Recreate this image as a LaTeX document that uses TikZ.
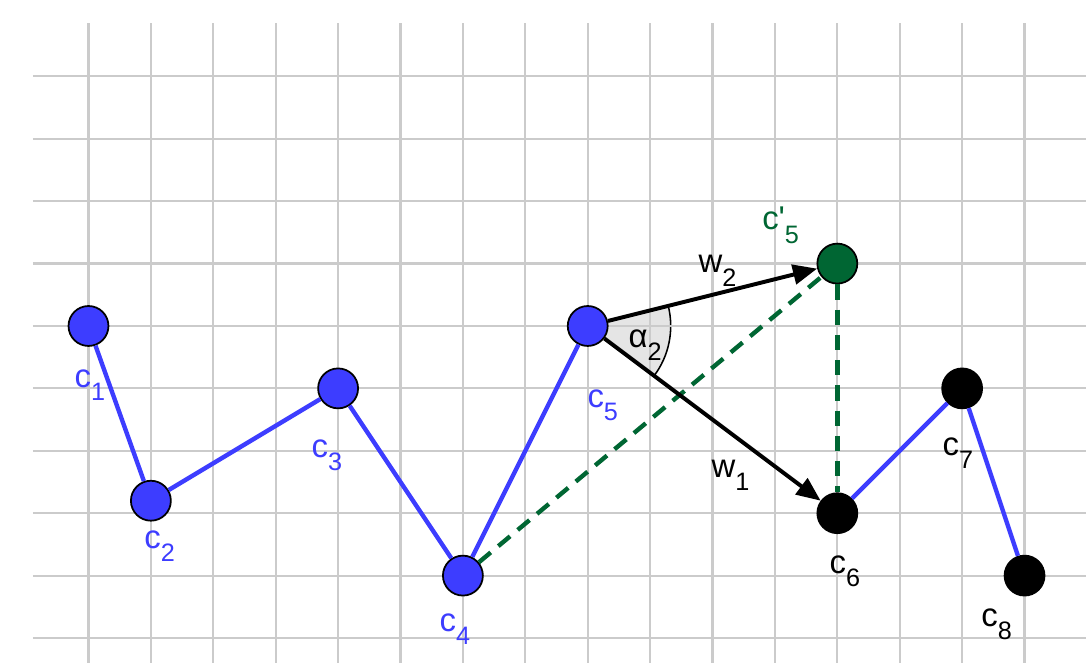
\documentclass[tikz,border=0pt]{standalone}
\usepackage{fontspec}
\setmainfont{Liberation Sans}
\usetikzlibrary{arrows.meta,positioning,angles,backgrounds}
\definecolor{ggBlue}{HTML}{3D3DFF}
\definecolor{ggGreen}{HTML}{006633}
\definecolor{ggGrid}{HTML}{CBCBCB}
\newcommand{\ggsub}[1]{\raisebox{-6pt}{\fontsize{11.5}{12}\selectfont #1}}
\tikzset{
  ggcuadro/.style={draw=ggGrid, line width=1pt},
  ggpunto/.style={
    circle, draw=black, line width=0.8pt,
    minimum size=0.64cm, inner sep=0pt
  },
  gglinea/.style={draw=ggBlue, line width=2pt},
  ggtraza/.style={draw=ggGreen, line width=2pt, dash pattern=on 7pt off 4.5pt},
  ggvector/.style={-{Triangle[length=11pt,width=9pt]}, draw=black, line width=1.8pt},
  ggetiq/.style={font=\fontsize{15}{17}\selectfont, anchor=base west, inner sep=0pt}
}

\begin{document}
\begin{tikzpicture}

% Marco y fondo
\begin{scope}[on background layer]
\fill[white] (-1.418,-0.4) rectangle (15.985,10.224);
\end{scope}
\useasboundingbox (-1.418,-0.4) rectangle (15.985,10.224);

% Cuadricula
\foreach \i in {0,...,15} \draw[ggcuadro] (\i,-0.4) -- (\i,9.86);
\foreach \j in {0,...,9} \draw[ggcuadro] (-0.89,\j) -- (15.985,\j);

% Puntos
\node[ggpunto, fill=ggBlue] (c1) at (0,5) {};
\node[ggpunto, fill=ggBlue] (c2) at (1,2.2) {};
\node[ggpunto, fill=ggBlue] (c3) at (4,4) {};
\node[ggpunto, fill=ggBlue] (c4) at (6,1) {};
\node[ggpunto, fill=ggBlue] (c5) at (8,5) {};
\node[ggpunto, fill=ggGreen] (c5p) at (12,6) {};
\node[ggpunto, fill=black] (c6) at (12,2) {};
\node[ggpunto, fill=black] (c7) at (14,4) {};
\node[ggpunto, fill=black] (c8) at (15,1) {};

% Angulo entre vectores
\begin{scope}[on background layer]
\pic[draw=black, line width=0.7pt, fill=black, fill opacity=0.1, angle radius=1.33cm] {angle = c6--c5--c5p};
\end{scope}

% Poligonal
\draw[gglinea] (c1) -- (c2) -- (c3) -- (c4) -- (c5);
\draw[gglinea] (c6) -- (c7) -- (c8);

% Trazos auxiliares
\draw[ggtraza] (c4) -- (c5p);
\draw[ggtraza] (c5p) -- (c6);

% Vectores
\draw[ggvector] (c5) -- (c5p);
\draw[ggvector] (c5) -- (c6);

% Etiquetas
\node[ggetiq, text=ggBlue] (l1) at ([shift={(-0.23,-0.98)}]c1) {c\ggsub{1}};
\node[ggetiq, text=ggBlue] (l2) at ([shift={(-0.11,-0.76)}]c2) {c\ggsub{2}};
\node[ggetiq, text=ggBlue] (l3) at ([shift={(-0.43,-1.10)}]c3) {c\ggsub{3}};
\node[ggetiq, text=ggBlue] (l4) at ([shift={(-0.38,-0.90)}]c4) {c\ggsub{4}};
\node[ggetiq, text=ggBlue] (l5) at ([shift={(-0.01,-1.30)}]c5) {c\ggsub{5}};
\node[ggetiq, text=ggGreen] (l5p) at ([shift={(-1.21,0.54)}]c5p) {c\textquotesingle\ggsub{5}};
\node[ggetiq] (lw2) at ([shift={(1.77,0.85)}]c5) {w\ggsub{2}};
\node[ggetiq] (la2) at ([shift={(0.65,-0.34)}]c5) {α\ggsub{2}};
\node[ggetiq] (lw1) at ([shift={(-2.02,0.58)}]c6) {w\ggsub{1}};
\node[ggetiq] (l6) at ([shift={(-0.13,-0.96)}]c6) {c\ggsub{6}};
\node[ggetiq] (l7) at ([shift={(-0.32,-1.07)}]c7) {c\ggsub{7}};
\node[ggetiq] (l8) at ([shift={(-0.70,-0.82)}]c8) {c\ggsub{8}};

\end{tikzpicture}
\end{document}
